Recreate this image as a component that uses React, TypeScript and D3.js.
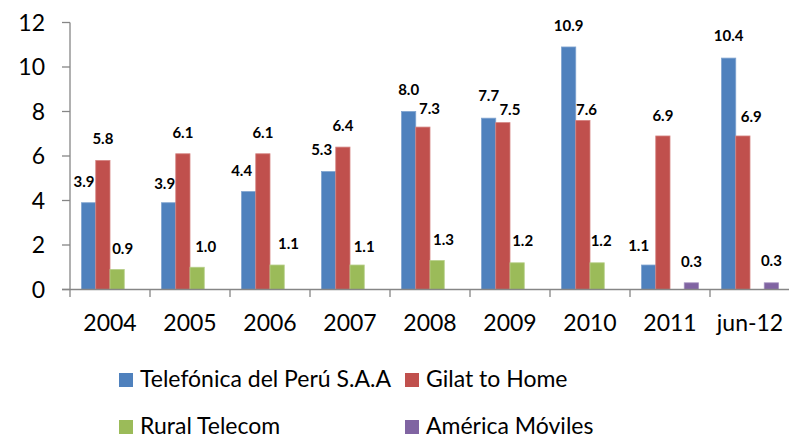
import React from "react";
import * as d3 from "d3";

const categories = ["2004", "2005", "2006", "2007", "2008", "2009", "2010", "2011", "jun-12"];
const seriesNames = ["Telefónica del Perú S.A.A", "Gilat to Home", "Rural Telecom", "América Móviles"];
const telefonica = [3.9, 3.9, 4.4, 5.3, 8.0, 7.7, 10.9, 1.1, 10.4];
const gilat = [5.8, 6.1, 6.1, 6.4, 7.3, 7.5, 7.6, 6.9, 6.9];
const rural: (number | null)[] = [0.9, 1.0, 1.1, 1.1, 1.3, 1.2, 1.2, null, null];
const america: (number | null)[] = [null, null, null, null, null, null, null, 0.3, 0.3];
const yTicks = [0, 2, 4, 6, 8, 10, 12];

const colors = ["#4F81BD", "#C0504D", "#9BBB59", "#8064A2"];
const strokes = ["#7FA3CF", "#D48380", "#B6CE87", "#A38FBD"];

// label nudges [dx, gap above bar top] (manual placements in original)
const labelNudge: [number, number][][] = [
  [[-4.6, 16], [-4, 13.3], [-7, 16], [-7, 17], [0, 16.7], [0, 16.7], [0, 16], [-10, 14], [0, 16.7]],
  [[0, 16], [0, 15.7], [0, 16], [0, 16], [6.7, 13.4], [7, 7.7], [3.7, 5], [0, 15.3], [8.3, 14.3]],
  [[5.5, 15.7], [8.5, 15.3], [11.3, 16], [7, 13.3], [6.4, 16], [5.5, 16.7], [4, 16.7], [0, 16], [0, 16]],
  [[0, 16], [0, 16], [0, 16], [0, 16], [0, 16], [0, 16], [0, 16], [0, 16], [0, 16.7]],
];

const FONT = "Lato, 'Open Sans', sans-serif";

export default function App() {
  const width = 789;
  const height = 439;
  const series = [telefonica, gilat, rural, america];

  const x = d3.scaleBand<string>().domain(categories).range([70, 790]).padding(0);
  const xs = d3.scaleBand<number>().domain([0, 1, 2, 3]).range([11.5, 68.5]).padding(0);
  const y = d3.scaleLinear().domain([0, 12]).range([289.5, 22.5]);

  const axisColor = "#868686";

  return (
    <svg width={width} height={height} style={{ position: "absolute", left: 0, top: 0, background: "#fff" }}>
      {/* y axis */}
      <line x1={70} x2={70} y1={y(12)} y2={y(0)} stroke={axisColor} strokeWidth={1.3} />
      {yTicks.map((t) => (
        <g key={t}>
          <line x1={62} x2={70} y1={y(t)} y2={y(t)} stroke={axisColor} strokeWidth={1.3} />
          <text x={45} y={y(t)} dy="0.36em" textAnchor="end" fontFamily={FONT} fontSize={23} fill="#000">
            {t}
          </text>
        </g>
      ))}
      {/* bars */}
      {series.map((vals, si) =>
        vals.map((v, ci) =>
          v == null ? null : (
            <rect
              key={`${si}-${ci}`}
              x={(x(categories[ci]) as number) + (xs(si) as number)}
              y={y(v)}
              width={xs.bandwidth()}
              height={y(0) - y(v)}
              fill={colors[si]}
              stroke={strokes[si]}
              strokeWidth={0.8}
            />
          )
        )
      )}
      {/* x axis */}
      <line x1={62} x2={790} y1={y(0)} y2={y(0)} stroke={axisColor} strokeWidth={1.3} />
      {categories.map((c) => (
        <line key={c} x1={x(c) as number} x2={x(c) as number} y1={y(0)} y2={y(0) + 7.5} stroke={axisColor} strokeWidth={1.3} />
      ))}
      {categories.map((c) => (
        <text key={c} x={(x(c) as number) + x.bandwidth() / 2} y={331} textAnchor="middle" fontFamily={FONT} fontSize={23} fill="#000">
          {c}
        </text>
      ))}
      {/* data labels */}
      {series.map((vals, si) =>
        vals.map((v, ci) => {
          if (v == null) return null;
          const [dx, gap] = labelNudge[si][ci];
          const cx = (x(categories[ci]) as number) + (xs(si) as number) + xs.bandwidth() / 2 + dx;
          return (
            <text
              key={`l-${si}-${ci}`}
              x={cx}
              y={y(v) - gap}
              textAnchor="middle"
              fontFamily={FONT}
              fontWeight="bold"
              fontSize={15}
              fill="#000"
            >
              {v.toFixed(1)}
            </text>
          );
        })
      )}
      {/* legend */}
      {seriesNames.map((name, i) => {
        const col = i % 2;
        const row = Math.floor(i / 2);
        const sx = col === 0 ? 119 : 405;
        const sy = row === 0 ? 373 : 420;
        return (
          <g key={name}>
            <rect x={sx} y={sy} width={14} height={14} fill={colors[i]} />
            <text x={sx + 21} y={sy + 14} fontFamily={FONT} fontSize={23} fill="#000">
              {name}
            </text>
          </g>
        );
      })}
    </svg>
  );
}
